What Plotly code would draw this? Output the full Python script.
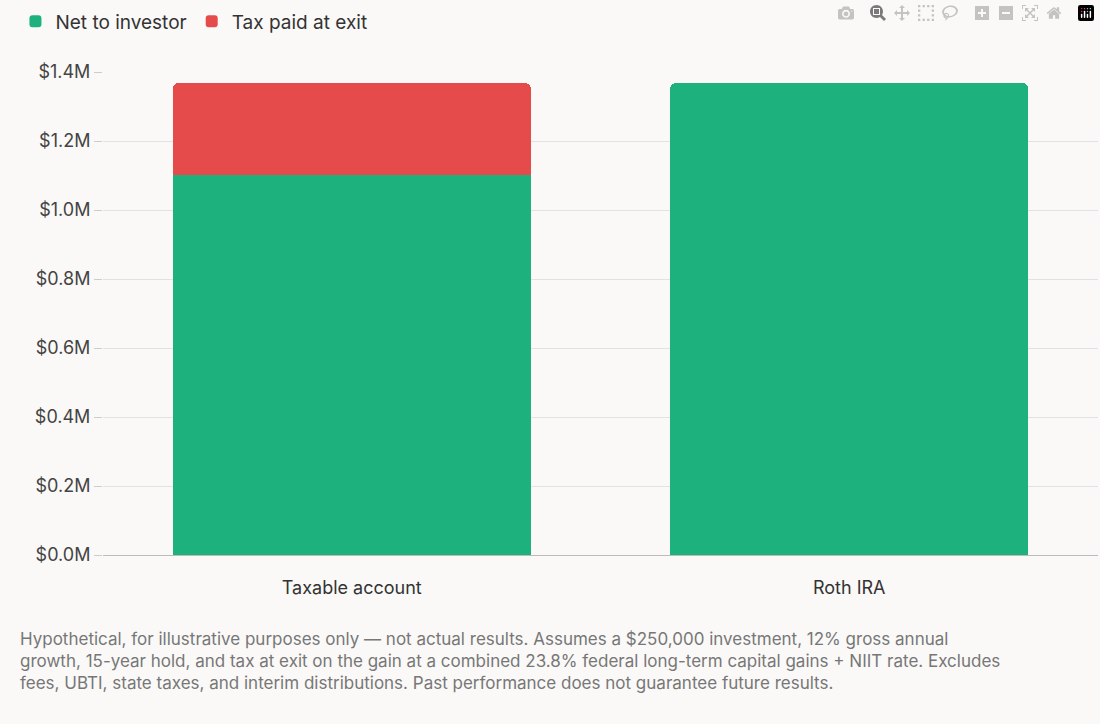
import plotly.graph_objects as go

accounts = ["Taxable account", "Roth IRA"]
net_to_investor = [1102000, 1368000]
tax_paid = [266000, 0]
tick_vals = [0, 200000, 400000, 600000, 800000, 1000000, 1200000, 1400000]
tick_text = ["$0.0M", "$0.2M", "$0.4M", "$0.6M", "$0.8M", "$1.0M", "$1.2M", "$1.4M"]

note = ("Hypothetical, for illustrative purposes only — not actual results. Assumes a $250,000 investment, 12% gross annual<br>"
        "growth, 15-year hold, and tax at exit on the gain at a combined 23.8% federal long-term capital gains + NIIT rate. Excludes<br>"
        "fees, UBTI, state taxes, and interim distributions. Past performance does not guarantee future results.")

fig = go.Figure()
fig.add_trace(go.Bar(x=accounts, y=net_to_investor, name="Net to investor",
                     marker=dict(color="#1db27d", line=dict(width=0))))
fig.add_trace(go.Bar(x=accounts, y=tax_paid, name="Tax paid at exit",
                     marker=dict(color="#e54b4b", line=dict(width=0))))

fig.update_layout(
    width=1100, height=724,
    barmode="stack", bargap=0.28, barcornerradius=6,
    paper_bgcolor="#faf9f7", plot_bgcolor="#faf9f7",
    font=dict(family="Inter, Noto Sans, sans-serif", size=18, color="#444"),
    margin=dict(l=103, r=2, t=72, b=169),
    legend=dict(orientation="h", traceorder="normal", x=-0.088, y=1.105,
                xanchor="left", yanchor="middle",
                font=dict(size=19, color="#333"), itemsizing="constant"),
    xaxis=dict(showline=True, linecolor="#bbb", ticks="outside", ticklen=16,
               tickcolor="rgba(0,0,0,0)", tickfont=dict(size=18, color="#333")),
    yaxis=dict(range=[0, 1400000], tickvals=tick_vals, ticktext=tick_text,
               gridcolor="#e2e2e2", zeroline=False, ticks="outside", ticklen=8,
               tickcolor="#ccc", tickfont=dict(size=18, color="#444")),
    annotations=[dict(text=note, xref="paper", yref="paper", x=-0.085, y=-0.15,
                      xanchor="left", yanchor="top", showarrow=False, align="left",
                      font=dict(size=17, color="#777"))],
)

fig.write_html("out.html", post_script="document.body.style.margin='0';")
